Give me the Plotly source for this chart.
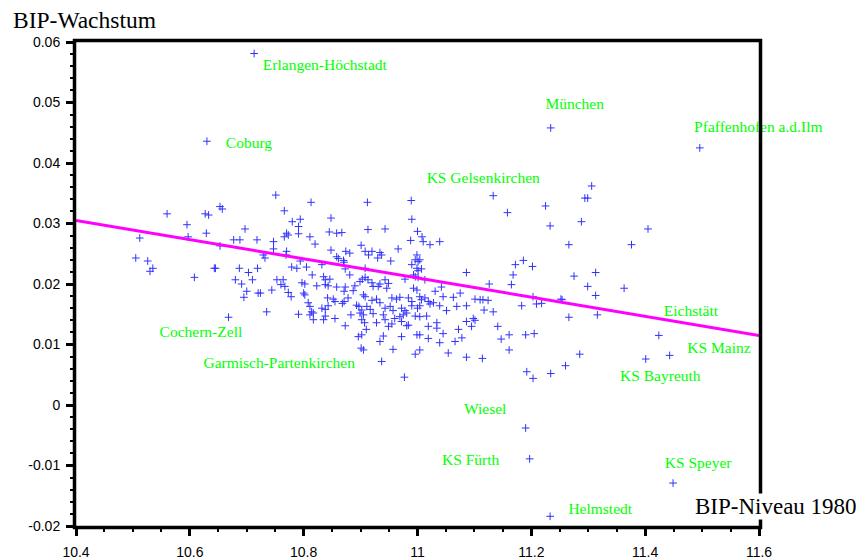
import plotly.graph_objects as go

# ---------------- data ----------------
bip_niveau = [
    10.560, 10.595, 10.627, 10.633, 10.653, 10.657, 10.512, 10.597, 10.629, 10.697,
    10.677, 10.688, 10.653, 10.505, 10.526, 10.535, 10.530, 10.643, 10.645, 10.608,
    10.687, 10.703, 10.680, 10.691, 10.710, 10.700, 10.695,
    10.751, 10.813, 10.766, 10.780, 10.794, 10.791, 10.770, 10.773, 10.766, 10.791,
    10.848, 10.845, 10.858, 10.867, 10.811, 10.820, 10.718, 10.747, 10.747, 10.912,
    10.913, 10.901, 10.848, 10.770, 10.769, 10.729, 10.732, 10.858, 10.861, 10.874,
    10.881, 10.870, 10.871, 10.908, 10.914, 10.794, 10.779, 10.788, 10.805, 10.832,
    10.719, 10.873, 10.908, 10.815, 10.881, 10.835, 10.838, 10.846, 10.753, 10.764,
    10.797, 10.802, 10.903, 10.908, 10.899, 10.838, 10.843, 10.823, 10.767, 10.760,
    10.744, 10.858, 10.873, 10.871, 10.890, 10.887, 10.720, 10.724, 10.773, 10.778,
    10.800, 10.802, 10.905, 10.908, 10.842, 10.852, 10.855, 10.878, 10.871, 10.808,
    10.811, 10.843, 10.868, 10.893, 10.897, 10.832, 10.838, 10.814, 10.817, 10.811,
    10.791, 10.735, 10.902, 10.899, 10.905, 10.883, 10.838, 10.835, 10.855, 10.817,
    10.902, 10.907, 10.873, 10.910, 10.902, 10.896, 10.901, 10.905,
    10.989, 10.990, 10.943, 11.000, 11.008, 11.010, 10.988, 11.022, 11.039, 10.966,
    10.920, 10.934, 10.937, 10.930, 10.953, 10.999, 10.996, 11.001, 11.004, 10.990,
    10.999, 11.001, 11.007, 11.086, 10.993, 10.996, 11.013, 11.001, 10.978, 10.913,
    10.920, 10.922, 10.931, 10.934, 10.943, 10.946, 10.949, 10.993, 10.999, 11.042,
    11.031, 11.075, 11.063, 11.101, 10.920, 10.928, 10.934, 10.955, 10.963, 10.969,
    10.984, 10.990, 11.004, 11.007, 11.013, 11.019, 11.022, 11.028, 11.045, 11.039,
    11.051, 11.069, 11.086, 10.911, 10.917, 10.943, 10.952, 10.957, 10.972, 10.978,
    10.975, 10.981, 10.969, 10.990, 11.000, 11.004, 10.996, 11.004, 11.016, 10.922,
    10.928, 10.940, 10.943, 10.949, 10.955, 10.960, 10.972, 10.981, 10.984, 11.019,
    11.034, 11.034, 11.045, 11.072, 11.086, 11.098, 11.095, 10.940, 10.934, 10.972,
    10.999, 11.004, 11.019, 11.039, 11.066, 11.078, 10.957, 11.004, 10.996, 11.054,
    11.086, 10.977,
    11.158, 11.225, 11.233, 11.306, 11.294, 11.299, 11.288, 11.266, 11.376, 11.172,
    11.186, 11.202, 11.168, 11.165, 11.275, 11.313, 11.126, 11.299, 11.313, 11.363,
    11.110, 11.115, 11.124, 11.117, 11.133, 11.183, 11.203, 11.209, 11.218, 11.252,
    11.254, 11.266, 11.316, 11.101, 11.141, 11.147, 11.161, 11.190, 11.205, 11.161,
    11.114, 11.285, 11.260, 11.234, 11.192, 11.203, 11.405,
]
bip_wachstum = [
    0.0316, 0.0298, 0.0316, 0.0314, 0.0328, 0.0324, 0.0276, 0.0278, 0.0284, 0.0291,
    0.0273, 0.0273, 0.0263, 0.0243, 0.0238, 0.0226, 0.0221, 0.0226, 0.0226, 0.0211,
    0.0226, 0.0219, 0.0207, 0.0200, 0.0207, 0.0188, 0.0178,
    0.0347, 0.0335, 0.0321, 0.0303, 0.0307, 0.0295, 0.0284, 0.0281, 0.0278, 0.0283,
    0.0309, 0.0286, 0.0284, 0.0285, 0.0278, 0.0266, 0.0273, 0.0270, 0.0258, 0.0335,
    0.0290, 0.0264, 0.0256, 0.0254, 0.0248, 0.0248, 0.0243, 0.0245, 0.0242, 0.0254,
    0.0251, 0.0239, 0.0236, 0.0254, 0.0248, 0.0238, 0.0228, 0.0226, 0.0228, 0.0232,
    0.0226, 0.0225, 0.0226, 0.0215, 0.0215, 0.0212, 0.0207, 0.0208, 0.0207, 0.0207,
    0.0202, 0.0200, 0.0208, 0.0211, 0.0204, 0.0199, 0.0197, 0.0197, 0.0196, 0.0199,
    0.0190, 0.0195, 0.0195, 0.0188, 0.0197, 0.0189, 0.0185, 0.0185, 0.0186, 0.0179,
    0.0185, 0.0182, 0.0182, 0.0179, 0.0177, 0.0175, 0.0171, 0.0177, 0.0171, 0.0169,
    0.0163, 0.0164, 0.0168, 0.0165, 0.0163, 0.0160, 0.0158, 0.0154, 0.0152, 0.0149,
    0.0150, 0.0154, 0.0157, 0.0152, 0.0149, 0.0149, 0.0147, 0.0141, 0.0143, 0.0141,
    0.0141, 0.0136, 0.0131, 0.0125, 0.0116, 0.0113, 0.0094, 0.0091,
    0.0338, 0.0307, 0.0291, 0.0287, 0.0278, 0.0270, 0.0272, 0.0265, 0.0270, 0.0258,
    0.0254, 0.0252, 0.0248, 0.0243, 0.0238, 0.0248, 0.0240, 0.0237, 0.0240, 0.0232,
    0.0226, 0.0222, 0.0225, 0.0219, 0.0215, 0.0212, 0.0207, 0.0211, 0.0208, 0.0207,
    0.0202, 0.0196, 0.0196, 0.0200, 0.0207, 0.0193, 0.0201, 0.0193, 0.0190, 0.0195,
    0.0188, 0.0185, 0.0178, 0.0175, 0.0173, 0.0175, 0.0169, 0.0177, 0.0175, 0.0178,
    0.0177, 0.0171, 0.0179, 0.0174, 0.0177, 0.0171, 0.0167, 0.0169, 0.0179, 0.0164,
    0.0156, 0.0163, 0.0164, 0.0163, 0.0158, 0.0160, 0.0163, 0.0156, 0.0160, 0.0156,
    0.0149, 0.0152, 0.0146, 0.0164, 0.0160, 0.0164, 0.0147, 0.0146, 0.0147, 0.0151,
    0.0136, 0.0149, 0.0141, 0.0130, 0.0134, 0.0143, 0.0138, 0.0131, 0.0132, 0.0130,
    0.0136, 0.0127, 0.0118, 0.0125, 0.0138, 0.0143, 0.0130, 0.0114, 0.0105, 0.0113,
    0.0116, 0.0116, 0.0110, 0.0103, 0.0105, 0.0111, 0.0092, 0.0091, 0.0084, 0.0086,
    0.0079, 0.0046,
    0.0318, 0.0329, 0.0296, 0.0362, 0.0342, 0.0342, 0.0303, 0.0265, 0.0265, 0.0232,
    0.0239, 0.0229, 0.0215, 0.0199, 0.0213, 0.0219, 0.0200, 0.0196, 0.0181, 0.0193,
    0.0174, 0.0174, 0.0173, 0.0157, 0.0154, 0.0164, 0.0179, 0.0167, 0.0168, 0.0175,
    0.0174, 0.0145, 0.0149, 0.0140, 0.0130, 0.0109, 0.0116, 0.0116, 0.0118, 0.0091,
    0.0077, 0.0084, 0.0065, 0.0052, 0.0055, 0.0044, 0.0291,
]

# named districts
kreis_namen = ["Erlangen-Höchstadt", "Coburg", "München", "Pfaffenhofen a.d.Ilm",
               "KS Gelsenkirchen", "Eichstätt", "KS Mainz", "KS Bayreuth",
               "Cochern-Zell", "Garmisch-Partenkirchen", "Wiesel", "KS Fürth",
               "Helmstedt", "KS Speyer"]
kreis_niveau = [10.713, 10.630, 11.234, 11.496, 11.133, 11.424, 11.443, 11.401,
                10.668, 10.937, 11.190, 11.197, 11.233, 11.449]
kreis_wachstum = [0.0581, 0.0436, 0.0458, 0.0425, 0.0346, 0.0115, 0.0082, 0.0076,
                  0.0145, 0.0072, -0.0038, -0.0089, -0.0184, -0.0129]

# regression line end values
fit_x = [10.4, 11.6]
fit_y = [0.0305, 0.0115]

# ticks
x_ticks = [10.4, 10.6, 10.8, 11.0, 11.2, 11.4, 11.6]
x_ticklabels = ["10.4", "10.6", "10.8", "11", "11.2", "11.4", "11.6"]
y_ticks = [-0.02, -0.01, 0.0, 0.01, 0.02, 0.03, 0.04, 0.05, 0.06]
y_ticklabels = ["-0.02", "-0.01", "0", "0.01", "0.02", "0.03", "0.04", "0.05", "0.06"]
x_minor = [round(10.4 + 0.05 * i, 3) for i in range(25) if i % 4]
y_minor = [round(-0.02 + 0.002 * i, 4) for i in range(41) if i % 5]

# label placement offsets (data units, relative to the point)
label_dx = [0.0153, 0.0333, -0.0093, -0.0100, -0.1169, 0.0088, 0.0311, -0.0451,
            -0.1211, -0.3131, -0.1083, -0.1539, 0.0321, -0.0146]
label_dy = [-0.0021, -0.0004, 0.0037, 0.0033, 0.0028, 0.0039, 0.0010, -0.0030,
            -0.0027, -0.0004, 0.0029, -0.0003, 0.0010, 0.0031]

all_x = bip_niveau + kreis_niveau
all_y = bip_wachstum + kreis_wachstum

fig = go.Figure()
fig.add_trace(go.Scatter(
    x=all_x, y=all_y, mode="markers",
    marker=dict(symbol="cross-thin-open", size=5.5,
                line=dict(color="rgb(50,50,255)", width=1), color="rgb(50,50,255)"),
    hoverinfo="skip", showlegend=False))
fig.add_trace(go.Scatter(
    x=fit_x, y=fit_y, mode="lines",
    line=dict(color="#ff00ff", width=3), showlegend=False, hoverinfo="skip"))
fig.add_trace(go.Scatter(
    x=[a + b for a, b in zip(kreis_niveau, label_dx)],
    y=[a + b for a, b in zip(kreis_wachstum, label_dy)],
    mode="text", text=kreis_namen, textposition="middle right",
    textfont=dict(family="Liberation Serif", size=15.5, color="#00ff00"),
    cliponaxis=False, showlegend=False, hoverinfo="skip"))

axis_common = dict(showline=False, showgrid=False, zeroline=False, ticks="outside",
                   tickcolor="black", tickwidth=3, ticklen=9, tickmode="array",
                   automargin=False, layer="above traces",
                   tickfont=dict(family="Liberation Sans", size=14, color="black"))

fig.update_xaxes(range=[10.4, 11.6], tickvals=x_ticks, ticktext=x_ticklabels,
                 ticklabelstandoff=4,
                 minor=dict(tickmode="array", tickvals=x_minor, ticks="outside",
                            ticklen=5, tickwidth=2, tickcolor="black", showgrid=False),
                 **axis_common)
fig.update_yaxes(range=[-0.02, 0.06], tickvals=y_ticks, ticktext=y_ticklabels,
                 ticklabelstandoff=3,
                 minor=dict(tickmode="array", tickvals=y_minor, ticks="outside",
                            ticklen=5, tickwidth=2, tickcolor="black", showgrid=False),
                 **axis_common)

# frame around the plotting area: four thick edges drawn just outside the plot
ex = 1.5 / 683
ey = 1.5 / 484
frame_edges = [
    (-ex, -2 * ey, -ex, 1 + 2 * ey),          # left
    (1 + ex, -2 * ey, 1 + ex, 1 + 2 * ey),    # right
    (-2 * ex, 1 + ey, 1 + 2 * ex, 1 + ey),    # top
    (-2 * ex, -ey, 1 + 2 * ex, -ey),          # bottom
]
for x0, y0, x1, y1 in frame_edges:
    fig.add_shape(type="line", xref="paper", yref="paper",
                  x0=x0, y0=y0, x1=x1, y1=y1,
                  line=dict(color="black", width=3.5), layer="above")

fig.add_annotation(text="BIP-Wachstum", xref="paper", yref="paper",
                   x=-0.0952, y=1.045, xanchor="left", yanchor="middle",
                   showarrow=False,
                   font=dict(family="Liberation Serif", size=23.5, color="black"))
fig.add_annotation(text="BIP-Niveau 1980", xref="paper", yref="paper",
                   x=0.9048, y=0.04, xanchor="left", yanchor="middle",
                   showarrow=False, bgcolor="white", borderpad=0,
                   font=dict(family="Liberation Serif", size=23, color="black"))

fig.update_layout(template="none", width=862, height=559,
                  margin=dict(l=76, r=103, t=42, b=33),
                  plot_bgcolor="white", paper_bgcolor="white",
                  showlegend=False)

fig.write_html("out.html", config={"displayModeBar": False},
               post_script="document.body.style.margin='0px';")
